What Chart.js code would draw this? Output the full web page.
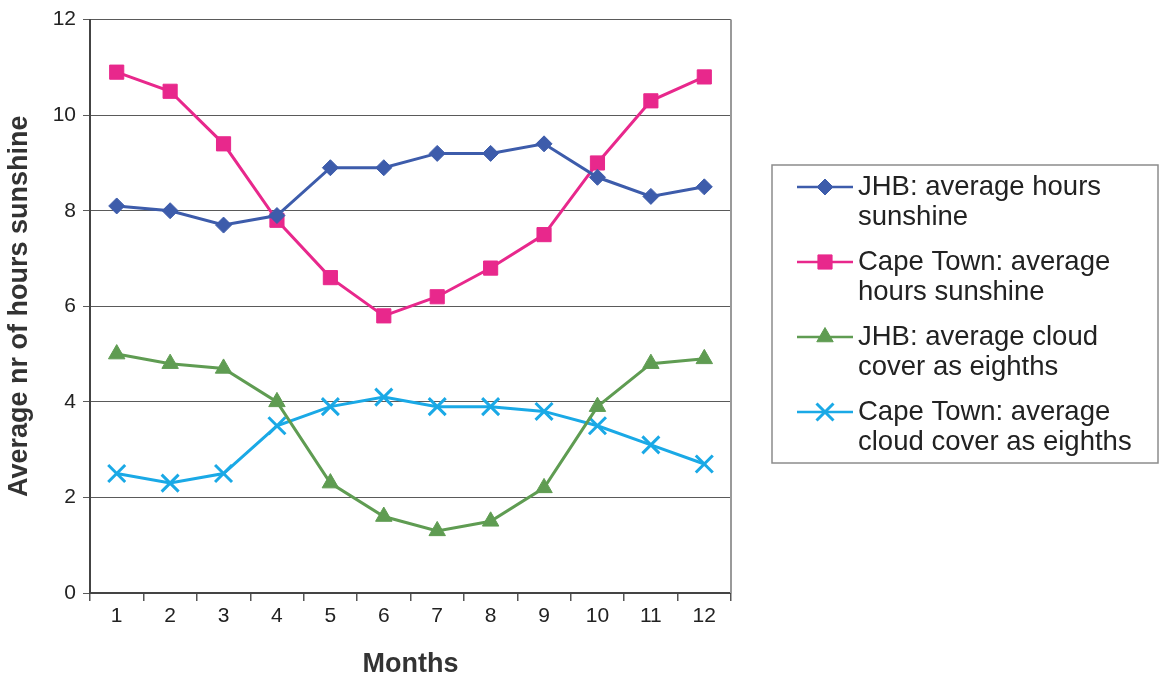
<!DOCTYPE html>
<html>
<head>
<meta charset="utf-8">
<title>Sunshine and cloud cover: Johannesburg and Cape Town</title>
<script src="https://cdn.jsdelivr.net/npm/chart.js@4/dist/chart.umd.min.js"></script>
<style>
  html, body { margin: 0; padding: 0; background: #ffffff; }
  #wrap { width: 1166px; height: 681px; position: relative; }
</style>
</head>
<body>
<div id="wrap"><canvas id="chart" width="1166" height="681"></canvas></div>
<script>
// Monthly averages (month 1 = January)
const months = ['1', '2', '3', '4', '5', '6', '7', '8', '9', '10', '11', '12'];
const jhbSunshine  = [8.1, 8.0, 7.7, 7.9, 8.9, 8.9, 9.2, 9.2, 9.4, 8.7, 8.3, 8.5];
const capeSunshine = [10.9, 10.5, 9.4, 7.8, 6.6, 5.8, 6.2, 6.8, 7.5, 9.0, 10.3, 10.8];
const jhbCloud     = [5.0, 4.8, 4.7, 4.0, 2.3, 1.6, 1.3, 1.5, 2.2, 3.9, 4.8, 4.9];
const capeCloud    = [2.5, 2.3, 2.5, 3.5, 3.9, 4.1, 3.9, 3.9, 3.8, 3.5, 3.1, 2.7];
const yTickValues  = [0, 2, 4, 6, 8, 10, 12];

const seriesNames = [
  ['JHB: average hours', 'sunshine'],
  ['Cape Town: average', 'hours sunshine'],
  ['JHB: average cloud', 'cover as eighths'],
  ['Cape Town: average', 'cloud cover as eighths']
];

const FONT = "'Liberation Sans', Arial, sans-serif";

function series(values, name, color, style, radius, stroke) {
  return {
    label: name.join(' '),
    legendLines: name,
    data: values,
    borderColor: color,
    backgroundColor: color,
    borderWidth: 3,
    tension: 0,
    pointStyle: style,
    pointRadius: radius,
    pointHoverRadius: radius,
    pointBackgroundColor: color,
    pointBorderColor: color,
    pointBorderWidth: stroke
  };
}

// Gray frame on the right edge of the plot area
const plotFrame = {
  id: 'plotFrame',
  beforeDatasetsDraw(chart) {
    const { ctx, chartArea: a } = chart;
    ctx.save();
    ctx.strokeStyle = '#9a9a9a';
    ctx.lineWidth = 2;
    ctx.beginPath();
    ctx.moveTo(a.right, a.top);
    ctx.lineTo(a.right, a.bottom);
    ctx.stroke();
    ctx.restore();
  }
};

// Boxed legend with two-line entries
const boxLegend = {
  id: 'boxLegend',
  afterDraw(chart, args, o) {
    const ctx = chart.ctx;
    ctx.save();
    ctx.strokeStyle = '#8c8c8c';
    ctx.lineWidth = 1.5;
    ctx.strokeRect(o.left, o.top, o.width, o.height);
    chart.data.datasets.forEach((ds, i) => {
      const y = o.firstY + i * o.rowGap;
      ctx.strokeStyle = ds.borderColor;
      ctx.lineWidth = 2.5;
      ctx.beginPath();
      ctx.moveTo(o.lineStart, y);
      ctx.lineTo(o.lineEnd, y);
      ctx.stroke();
      ctx.fillStyle = ds.pointBackgroundColor;
      ctx.strokeStyle = ds.pointBorderColor;
      ctx.lineWidth = ds.pointBorderWidth;
      Chart.helpers.drawPoint(ctx, {
        pointStyle: ds.pointStyle,
        rotation: 0,
        radius: ds.pointRadius,
        borderWidth: ds.pointBorderWidth
      }, (o.lineStart + o.lineEnd) / 2, y);
      ctx.fillStyle = '#222222';
      ctx.font = o.fontSize + 'px ' + FONT;
      ctx.textAlign = 'left';
      ctx.textBaseline = 'middle';
      ds.legendLines.forEach((t, k) => ctx.fillText(t, o.textX, y + k * o.lineHeight));
    });
    ctx.restore();
  }
};

new Chart(document.getElementById('chart'), {
  type: 'line',
  data: {
    labels: months,
    datasets: [
      series(jhbSunshine,  seriesNames[0], '#3d5cab', 'rectRot',  8,   1),
      series(capeSunshine, seriesNames[1], '#e8288c', 'rect',     10,  1),
      series(jhbCloud,     seriesNames[2], '#5f9c52', 'triangle', 9.5, 1),
      series(capeCloud,    seriesNames[3], '#1aa9e6', 'crossRot', 12,  3)
    ]
  },
  options: {
    responsive: false,
    animation: false,
    devicePixelRatio: 1,
    layout: { padding: { top: 16, right: 435, bottom: 0, left: 0 } },
    plugins: {
      legend: { display: false },
      tooltip: { enabled: false },
      boxLegend: {
        left: 772, top: 165, width: 386, height: 298,
        firstY: 187, rowGap: 75, lineHeight: 30,
        lineStart: 797, lineEnd: 853, textX: 858, fontSize: 27.5
      }
    },
    scales: {
      x: {
        type: 'category',
        offset: true,
        afterFit(scale) { scale.height = 88; },
        grid: {
          offset: true,
          drawOnChartArea: false,
          drawTicks: true,
          tickLength: 8,
          color: '#555555',
          lineWidth: 1.5
        },
        border: { display: true, color: '#444444', width: 2 },
        ticks: {
          padding: 3,
          color: '#222222',
          font: { family: FONT, size: 21 }
        },
        title: {
          display: true,
          text: 'Months',
          color: '#333333',
          padding: { top: 0, bottom: 0 },
          font: { family: FONT, size: 27, weight: 'bold', lineHeight: 1.2 }
        }
      },
      y: {
        min: 0,
        max: 12,
        afterFit(scale) { scale.width = 90; },
        afterBuildTicks(scale) { scale.ticks = yTickValues.map(v => ({ value: v })); },
        grid: {
          drawOnChartArea: true,
          drawTicks: true,
          tickLength: 7,
          color: '#5a5a5a',
          lineWidth: 1
        },
        border: { display: true, color: '#444444', width: 2 },
        ticks: {
          padding: 7,
          color: '#222222',
          font: { family: FONT, size: 21 }
        },
        title: {
          display: true,
          text: 'Average nr of hours sunshine',
          color: '#333333',
          padding: { top: 3, bottom: 0 },
          font: { family: FONT, size: 27, weight: 'bold', lineHeight: 1.2 }
        }
      }
    }
  },
  plugins: [plotFrame, boxLegend]
});
</script>
</body>
</html>
